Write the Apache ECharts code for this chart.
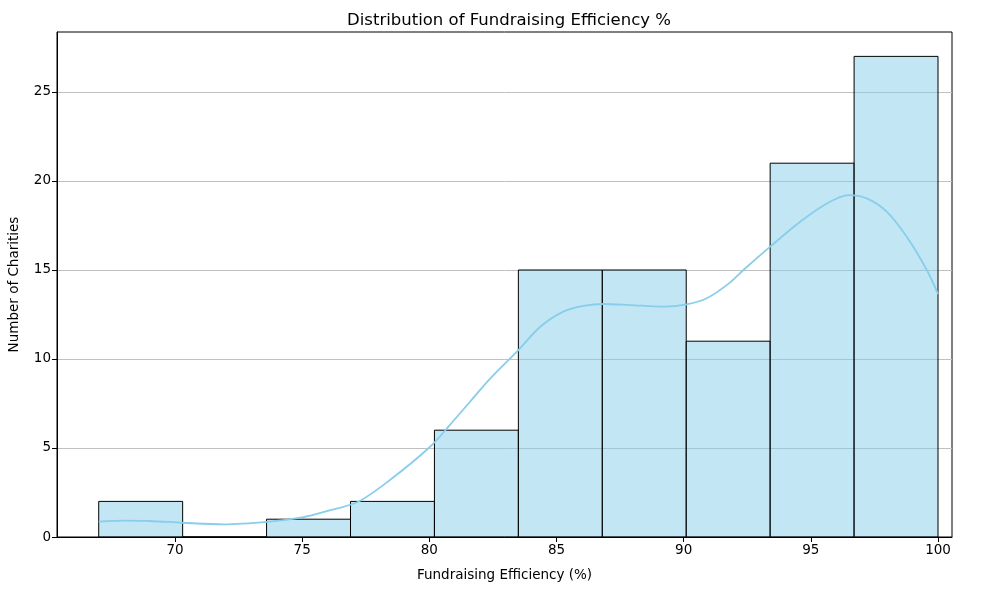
<!DOCTYPE html>
<html>
<head>
<meta charset="utf-8">
<script src="https://cdn.jsdelivr.net/npm/echarts@6/dist/echarts.min.js"></script>
<style>html,body{margin:0;padding:0;background:#fff}#c{width:990px;height:590px}</style>
</head>
<body>
<div id="c"></div>
<script>
// Histogram bins (edges) and counts
const binEdges = [67.0, 70.3, 73.6, 76.9, 80.2, 83.5, 86.8, 90.1, 93.4, 96.7, 100.0];
const binCounts = [2, 0, 1, 2, 6, 15, 15, 11, 21, 27];
// KDE curve points (value, count scale)
const kdeX = [67.0, 68.0, 69.0, 70.3, 71.9, 73.7, 75.0, 75.9, 77.2, 78.45, 80.03, 80.81, 81.6, 82.39, 83.5, 84.35, 85.27, 86.06, 86.84, 87.89, 89.2, 90.12, 90.91, 91.82, 92.35, 93.4, 94.58, 95.63, 96.48, 97.2, 97.99, 98.77, 99.56, 100.0];
const kdeY = [0.86, 0.92, 0.9, 0.80, 0.71, 0.86, 1.1, 1.42, 1.98, 3.2, 5.07, 6.3, 7.6, 8.9, 10.5, 11.8, 12.66, 12.98, 13.09, 13.03, 12.94, 13.07, 13.41, 14.29, 15.0, 16.31, 17.71, 18.74, 19.21, 19.02, 18.27, 16.87, 15.0, 13.65];
const xTicks = [70, 75, 80, 85, 90, 95, 100];
const yTicks = [0, 5, 10, 15, 20, 25];

const barData = binCounts.map((c, i) => [binEdges[i], binEdges[i + 1], c]);
const kdeData = kdeX.map((x, i) => [x, kdeY[i]]);

const font = 'DejaVu Sans';
const chart = echarts.init(document.getElementById('c'), null, {renderer: 'canvas'});
chart.setOption({
  animation: false,
  backgroundColor: '#fff',
  title: {
    text: 'Distribution of Fundraising Efficiency %',
    left: 504, top: 7, textAlign: 'center',
    textStyle: {fontFamily: font, fontSize: 16.5, fontWeight: 'normal', color: '#000'}
  },
  grid: {left: 57, right: 38, top: 32, bottom: 53, show: true, borderColor: '#000', borderWidth: 1, containLabel: false, outerBoundsMode: 'none'},
  xAxis: {
    type: 'value', min: 65.36, max: 100.55,
    name: 'Fundraising Efficiency (%)', nameLocation: 'middle', nameGap: 31,
    nameTextStyle: {fontFamily: font, fontSize: 13.5, color: '#000'},
    axisLine: {show: true, onZero: false, lineStyle: {color: '#000', width: 1}},
    axisTick: {show: true, length: 5, lineStyle: {color: '#000'}, customValues: xTicks},
    axisLabel: {fontFamily: font, fontSize: 13.5, color: '#000', margin: 6, customValues: xTicks},
    splitLine: {show: false}
  },
  yAxis: {
    type: 'value', min: 0, max: 28.37, interval: 5,
    name: 'Number of Charities', nameLocation: 'middle', nameGap: 36,
    nameTextStyle: {fontFamily: font, fontSize: 13.5, color: '#000'},
    axisLine: {show: true, lineStyle: {color: '#000', width: 1}},
    axisTick: {show: true, length: 5, lineStyle: {color: '#000'}, customValues: yTicks},
    axisLabel: {fontFamily: font, fontSize: 13.5, color: '#000', margin: 6, customValues: yTicks},
    splitLine: {show: true, lineStyle: {color: '#c0c0c0', width: 1}}
  },
  series: [
    {
      type: 'custom',
      data: barData,
      encode: {x: [0, 1], y: 2},
      renderItem: function (params, api) {
        const p0 = api.coord([api.value(0), api.value(2)]);
        const p1 = api.coord([api.value(1), 0]);
        return {
          type: 'rect',
          shape: {x: p0[0], y: p0[1], width: p1[0] - p0[0], height: p1[1] - p0[1]},
          style: {fill: 'rgba(135,206,235,0.5)', stroke: '#000', lineWidth: 1}
        };
      },
      z: 2
    },
    {
      type: 'line',
      data: kdeData,
      smooth: 0.3,
      showSymbol: false,
      lineStyle: {color: '#87ceeb', width: 1.8},
      z: 3
    }
  ]
});
</script>
</body>
</html>
